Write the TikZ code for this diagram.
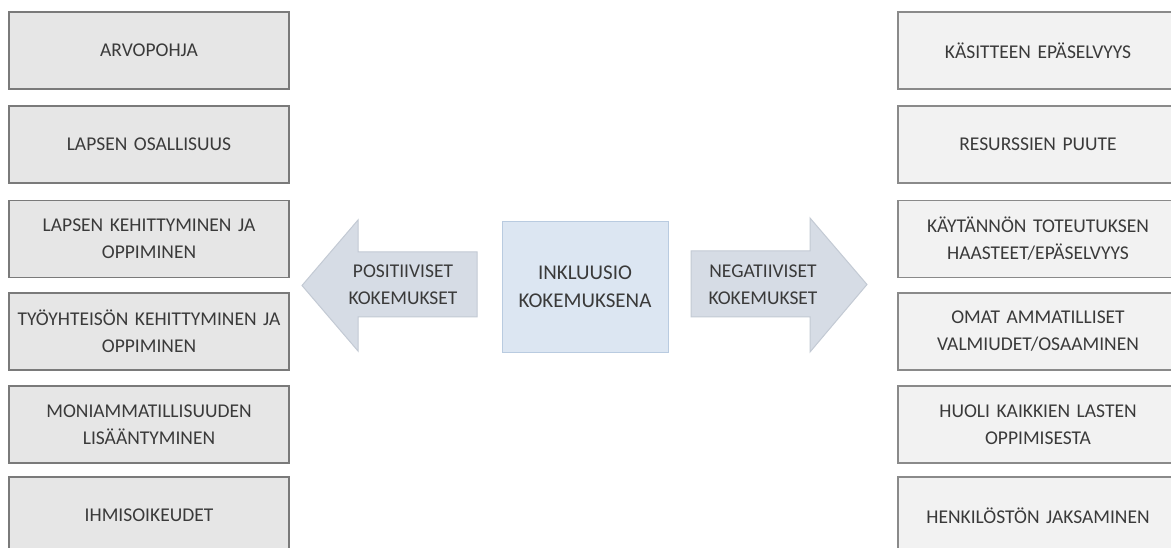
\documentclass[tikz,border=0pt]{standalone}
\usepackage{fontspec}
\setmainfont[WordSpace=0.8]{Carlito}
\begin{document}
\begin{tikzpicture}[x=1pt,y=-1pt,
  txt/.style={text=textgray},
  leftbox/.style={draw=leftline, fill=leftfill, line width=1.2pt,
    minimum width=280pt, minimum height=77pt, inner sep=0pt,
    text width=274pt, align=center, txt, font=\fontsize{19.5}{27}\selectfont},
  rightbox/.style={leftbox, draw=rightline, fill=rightfill},
  centerbox/.style={draw=centerline, fill=centerfill, line width=1pt,
    minimum width=166pt, minimum height=130pt, inner sep=0pt,
    align=center, txt, font=\fontsize{21}{28}\selectfont},
  arrowshape/.style={draw=arrowline, fill=arrowfill, line width=1pt, line join=miter},
  arrowtext/.style={align=center, txt, inner sep=0pt, font=\fontsize{19.5}{27}\selectfont}
]
\definecolor{textgray}{HTML}{3A3A3A}
\definecolor{leftfill}{HTML}{E6E6E6}
\definecolor{leftline}{HTML}{7A7A7A}
\definecolor{rightfill}{HTML}{F2F2F2}
\definecolor{rightline}{HTML}{8A8A8A}
\definecolor{centerfill}{HTML}{DCE6F2}
\definecolor{centerline}{HTML}{B9CBE0}
\definecolor{arrowfill}{HTML}{D6DCE5}
\definecolor{arrowline}{HTML}{C3CAD4}

\useasboundingbox (0,0) rectangle (1171,548);
\clip (0,0) rectangle (1171,548);
\fill[white] (0,0) rectangle (1171,548);

% left column
\node[leftbox] (l1) at (149,50.5)  {ARVOPOHJA};
\node[leftbox] (l2) at (149,144.5) {LAPSEN OSALLISUUS};
\node[leftbox] (l3) at (149,239)   {LAPSEN KEHITTYMINEN JA\\OPPIMINEN};
\node[leftbox] (l4) at (149,331.5) {TYÖYHTEISÖN KEHITTYMINEN JA\\OPPIMINEN};
\node[leftbox] (l5) at (149,424.5) {MONIAMMATILLISUUDEN\\LISÄÄNTYMINEN};
\node[leftbox] (l6) at (149,515.5) {IHMISOIKEUDET};

% right column
\node[rightbox] (r1) at (1038,50.5)  {KÄSITTEEN EPÄSELVYYS};
\node[rightbox] (r2) at (1038,144.5) {RESURSSIEN PUUTE};
\node[rightbox] (r3) at (1038,239)   {KÄYTÄNNÖN TOTEUTUKSEN\\HAASTEET/EPÄSELVYYS};
\node[rightbox] (r4) at (1038,331.5) {OMAT AMMATILLISET\\VALMIUDET/OSAAMINEN};
\node[rightbox] (r5) at (1038,424.5) {HUOLI KAIKKIEN LASTEN\\OPPIMISESTA};
\node[rightbox] (r6) at (1038,515.5) {HENKILÖSTÖN JAKSAMINEN};

% centre
\node[centerbox] (c) at (585,287) {INKLUUSIO\\KOKEMUKSENA};

% block arrows
\draw[arrowshape] (477,252) -- (358,252) -- (358,220) -- (302,285.5)
  -- (358,351) -- (358,317) -- (477,317) -- cycle;
\draw[arrowshape] (691,251) -- (810,251) -- (810,218) -- (867,284.5)
  -- (810,352) -- (810,317) -- (691,317) -- cycle;
\node[arrowtext] (pos) at (403,285) {POSITIIVISET\\KOKEMUKSET};
\node[arrowtext] (neg) at (763,285) {NEGATIIVISET\\KOKEMUKSET};
\end{tikzpicture}
\end{document}
